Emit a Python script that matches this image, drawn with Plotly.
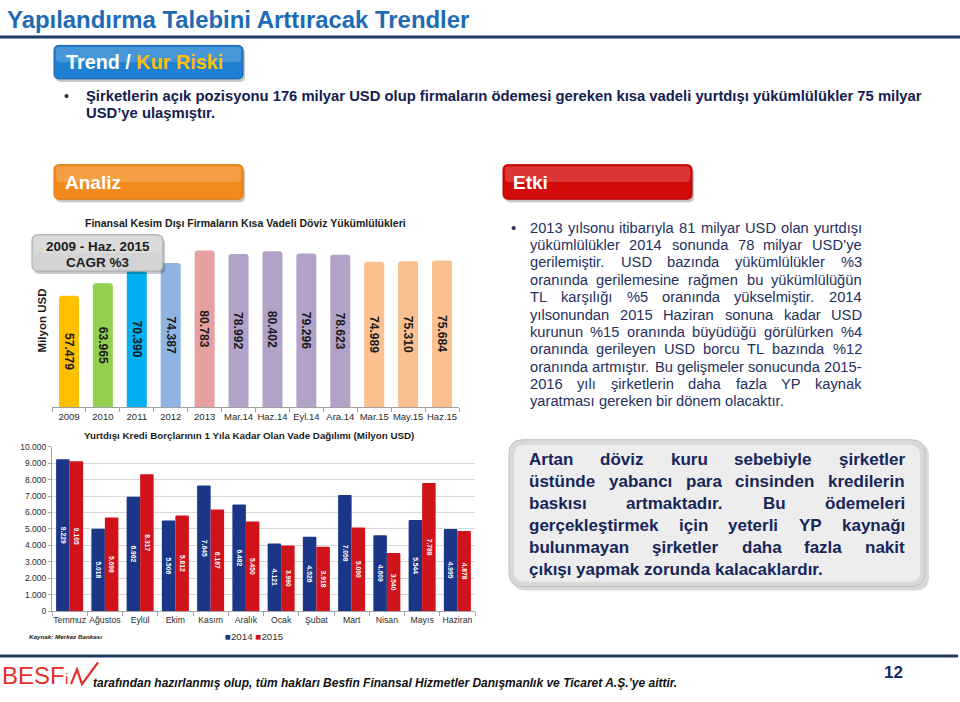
import plotly.graph_objects as go

# ---------------- DATA ----------------
top_categories = ["2009", "2010", "2011", "2012", "2013", "Mar.14", "Haz.14", "Eyl.14",
                  "Ara.14", "Mar.15", "May.15", "Haz.15"]
top_values = [57479, 63965, 70390, 74387, 80783, 78992, 80402, 79296, 78623, 74989, 75310, 75684]
top_colors = ["#FFC000", "#92D050", "#00B0F0", "#8DB4E2", "#E6A0A0", "#B3A2C7", "#B3A2C7",
              "#B3A2C7", "#B3A2C7", "#FAC090", "#FAC090", "#FAC090"]

months = ["Temmuz", "Ağustos", "Eylül", "Ekim", "Kasım", "Aralık", "Ocak", "Şubat",
          "Mart", "Nisan", "Mayıs", "Haziran"]
debt_2014 = [9229, 5018, 6962, 5506, 7645, 6482, 4121, 4526, 7058, 4609, 5544, 4995]
debt_2015 = [9105, 5698, 8317, 5812, 6187, 5450, 3990, 3918, 5090, 3540, 7788, 4878]
series_names = ["2014", "2015"]

title_text = "Yapılandırma Talebini Arttıracak Trendler"
top_chart_title = "Finansal Kesim Dışı Firmaların Kısa Vadeli Döviz Yükümlülükleri"
bottom_chart_title = "Yurtdışı Kredi Borçlarının 1 Yıla Kadar Olan Vade Dağılımı (Milyon USD)"
bullet_top = ["Şirketlerin açık pozisyonu 176 milyar USD olup firmaların ödemesi gereken kısa vadeli yurtdışı yükümlülükler 75 milyar",
              "USD’ye ulaşmıştır."]
etki_lines = ["2013 yılsonu itibarıyla 81 milyar USD olan yurtdışı",
              "yükümlülükler 2014 sonunda 78 milyar USD’ye",
              "gerilemiştir. USD bazında yükümlülükler %3",
              "oranında gerilemesine rağmen bu yükümlülüğün",
              "TL karşılığı %5 oranında yükselmiştir. 2014",
              "yılsonundan 2015 Haziran sonuna kadar USD",
              "kurunun %15 oranında büyüdüğü görülürken %4",
              "oranında gerileyen USD borcu TL bazında %12",
              "oranında artmıştır. Bu gelişmeler sonucunda 2015-",
              "2016 yılı şirketlerin daha fazla YP kaynak",
              "yaratması gereken bir dönem olacaktır."]
box_lines = ["Artan döviz kuru sebebiyle şirketler",
             "üstünde yabancı para cinsinden kredilerin",
             "baskısı artmaktadır. Bu ödemeleri",
             "gerçekleştirmek için yeterli YP kaynağı",
             "bulunmayan şirketler daha fazla nakit",
             "çıkışı yapmak zorunda kalacaklardır."]
footer_text = "tarafından hazırlanmış olup, tüm hakları Besfin Finansal Hizmetler Danışmanlık ve Ticaret A.Ş.’ye aittir."

# ---------------- helpers ----------------
W, H = 960, 702
FONT = "Liberation Sans, Arial, sans-serif"


def X(px):
    return px / W


def Y(py):
    return 1 - py / H


REG = {' ': 278, '.': 278, ',': 278, '-': 333, '%': 889, "'": 191, '’': 222, '(': 333, ')': 333,
       '/': 278, ':': 278}
BOLD = {' ': 278, '.': 278, ',': 278, '-': 333, '%': 889, "'": 238, '’': 278, '(': 333, ')': 333,
        '/': 278, ':': 333}
for d in "0123456789":
    REG[d] = 556
    BOLD[d] = 556
REG.update(dict(zip("ABCDEFGHIJKLMNOPQRSTUVWXYZ",
                    [667, 667, 722, 722, 667, 611, 778, 722, 278, 500, 667, 556, 833, 722, 778, 667, 778,
                     722, 667, 611, 722, 667, 944, 667, 667, 611])))
REG.update(dict(zip("abcdefghijklmnopqrstuvwxyz",
                    [556, 556, 500, 556, 556, 278, 556, 556, 222, 222, 500, 222, 833, 556, 556, 556, 556,
                     333, 500, 278, 556, 500, 722, 500, 500, 500])))
REG.update({'ı': 278, 'ş': 500, 'ç': 500, 'ğ': 556, 'ü': 556, 'ö': 556, 'Ş': 667, 'Ç': 722,
            'Ğ': 778, 'Ü': 722, 'Ö': 778, 'İ': 278})
BOLD.update(dict(zip("ABCDEFGHIJKLMNOPQRSTUVWXYZ",
                     [722, 722, 722, 722, 667, 611, 778, 722, 278, 556, 722, 611, 833, 722, 778, 667, 778,
                      722, 667, 611, 722, 667, 944, 667, 667, 611])))
BOLD.update(dict(zip("abcdefghijklmnopqrstuvwxyz",
                     [556, 611, 556, 611, 556, 333, 611, 611, 278, 278, 556, 278, 889, 611, 611, 611, 611,
                      389, 556, 333, 611, 556, 778, 556, 556, 500])))
BOLD.update({'ı': 278, 'ş': 556, 'ç': 556, 'ğ': 611, 'ü': 611, 'ö': 611, 'Ş': 667, 'Ç': 722,
             'Ğ': 778, 'Ü': 722, 'Ö': 778, 'İ': 278})


def textw(s, bold=False):
    t = BOLD if bold else REG
    return sum(t.get(c, 556) for c in s) / 1000.0


def fit(s, width, bold=False):
    return width / textw(s, bold)


annotations = []
shapes = []


def txt(s, x, y, size, color="#000000", bold=False, italic=False, xanchor="left", angle=0):
    if bold:
        s = "<b>" + s + "</b>"
    if italic:
        s = "<i>" + s + "</i>"
    annotations.append(dict(text=s, x=X(x), y=Y(y), xref="paper", yref="paper", xanchor=xanchor,
                            yanchor="middle", showarrow=False, borderpad=0, borderwidth=0,
                            textangle=angle, font=dict(size=size, color=color, family=FONT)))


def justify(line, x0, x1, y, size, color, bold=False, last=False):
    words = line.split(" ")
    ws = [textw(w, bold) * size for w in words]
    if last or len(words) == 1:
        gap = textw(" ", bold) * size
    else:
        gap = (x1 - x0 - sum(ws)) / (len(words) - 1)
    x = x0
    for w, wd in zip(words, ws):
        txt(w, x, y, size, color, bold)
        x += wd + gap


def rrpath(x0, y0, x1, y1, r):
    rx, ry = r, r
    return (f"M {X(x0 + rx)},{Y(y0)} L {X(x1 - rx)},{Y(y0)} Q {X(x1)},{Y(y0)} {X(x1)},{Y(y0 + ry)} "
            f"L {X(x1)},{Y(y1 - ry)} Q {X(x1)},{Y(y1)} {X(x1 - rx)},{Y(y1)} "
            f"L {X(x0 + rx)},{Y(y1)} Q {X(x0)},{Y(y1)} {X(x0)},{Y(y1 - ry)} "
            f"L {X(x0)},{Y(y0 + ry)} Q {X(x0)},{Y(y0)} {X(x0 + rx)},{Y(y0)} Z")


def rbox(x0, y0, x1, y1, r, fill, line=None, lw=0, shadow=True, gloss=True):
    if shadow:
        shapes.append(dict(type="path", path=rrpath(x0 + 2, y0 + 3, x1 + 2, y1 + 3, r), xref="paper",
                           yref="paper", fillcolor="rgba(0,0,0,0.22)", line=dict(width=0), layer="above"))
    shapes.append(dict(type="path", path=rrpath(x0, y0, x1, y1, r), xref="paper", yref="paper",
                       fillcolor=fill, line=dict(width=lw, color=line or fill), layer="above"))
    if gloss:
        shapes.append(dict(type="path", path=rrpath(x0 + 2, y0 + 1.5, x1 - 2, (y0 + y1) / 2, r * 0.8),
                           xref="paper", yref="paper", fillcolor="rgba(255,255,255,0.18)",
                           line=dict(width=0), layer="above"))


# ---------------- figure ----------------
fig = go.Figure()

fig.add_trace(go.Bar(
    x=top_categories, y=top_values, xaxis="x", yaxis="y",
    marker=dict(color=top_colors, line=dict(width=0), cornerradius=3),
    width=0.59, offset=-0.295,
    texttemplate="%{y:,d}", textposition="inside", insidetextanchor="middle", textangle=90,
    textfont=dict(size=13, color="#1A1A1A", family=FONT, weight="bold"),
    showlegend=False, hoverinfo="skip"))

bar_w = 0.383
for name, vals, col, off in [(series_names[0], debt_2014, "#1B3587", -bar_w),
                             (series_names[1], debt_2015, "#D0121B", 0.0)]:
    fig.add_trace(go.Bar(
        x=months, y=vals, name=name, xaxis="x2", yaxis="y2",
        marker=dict(color=col, line=dict(width=0), cornerradius=1),
        width=bar_w, offset=off,
        texttemplate="%{y:,d}", textposition="inside", insidetextanchor="middle", textangle=90,
        textfont=dict(size=9, color="#FFFFFF", family=FONT, weight="bold"),
        showlegend=False, hoverinfo="skip"))

# header
txt(title_text, 7, 15, fit(title_text, 468, True), "#1E6BB5", bold=True)
shapes.append(dict(type="line", xref="paper", yref="paper", x0=0, x1=1, y0=Y(32.5), y1=Y(32.5),
                   line=dict(color="#1F3864", width=3)))

rbox(54, 41, 243, 75, 5, "#1F7FD0", "#1865B0", 1)
annotations.append(dict(text="<b>Trend / <span style='color:#FFC000'>Kur Riski</span></b>",
                        x=X(66), y=Y(58), xref="paper", yref="paper", xanchor="left", yanchor="middle",
                        showarrow=False, borderpad=0, borderwidth=0,
                        font=dict(size=19.8, color="#FFFFFF", family=FONT)))

txt("•", 64, 92, 14, "#1B2A5E")
txt(bullet_top[0], 86, 92, 14.8, "#14204F", bold=True)
txt(bullet_top[1], 86, 110, 14.8, "#14204F", bold=True)

rbox(54, 162, 243, 197, 5, "#F28A1C", "#D9730E", 1)
txt("Analiz", 65, 180, 19, "#FFFFFF", bold=True)
rbox(503, 162, 692, 197, 5, "#D20A0A", "#B00000", 1)
txt("Etki", 513, 180, 19, "#FFFFFF", bold=True)

# top chart texts
txt(top_chart_title, 246, 221, fit(top_chart_title, 322, True), "#1A1A1A", bold=True, xanchor="center")
txt("Milyon USD", 42, 320, 11.5, "#1A1A1A", bold=True, xanchor="center", angle=-90)
rbox(32, 233, 163, 270, 6, "#D4D4D4", "#A8A8A8", 1, shadow=True, gloss=True)
txt("2009 - Haz. 2015", 97.5, 245, 13.5, "#1E1E1E", bold=True, xanchor="center")
txt("CAGR %3", 97.5, 261, 13.5, "#1E1E1E", bold=True, xanchor="center")

# bottom chart texts
txt(bottom_chart_title, 249, 437, fit(bottom_chart_title, 332, True), "#1A1A1A", bold=True, xanchor="center")
txt("Kaynak: Merkez Bankası", 29, 641, fit("Kaynak: Merkez Bankası", 73, True), "#1A1A1A", bold=True, italic=True)
annotations.append(dict(text=f"<span style='color:#1B3587'>■</span>{series_names[0]} "
                             f"<span style='color:#D0121B'>■</span>{series_names[1]}",
                        x=X(225), y=Y(641), xref="paper", yref="paper", xanchor="left", yanchor="middle",
                        showarrow=False, borderpad=0, borderwidth=0,
                        font=dict(size=9.8, color="#333333", family=FONT)))

# right bullet text (justified)
txt("•", 511, 226, 14.7, "#24305E")
for i, line in enumerate(etki_lines):
    justify(line, 530, 862, 226 + 17.6 * i, 14.7, "#24305E", bold=False, last=(i == len(etki_lines) - 1))

# conclusion box
shapes.append(dict(type="path", path=rrpath(512, 444, 929, 594, 14), xref="paper", yref="paper",
                   fillcolor="rgba(0,0,0,0.15)", line=dict(width=0), layer="above"))
shapes.append(dict(type="path", path=rrpath(509, 441, 925, 590, 14), xref="paper", yref="paper",
                   fillcolor="#D9D9D9", line=dict(width=1, color="#BFBFBF"), layer="above"))
shapes.append(dict(type="path", path=rrpath(514, 446, 920, 585, 11), xref="paper", yref="paper",
                   fillcolor="#EDEDED", line=dict(width=0), layer="above"))
for i, line in enumerate(box_lines):
    justify(line, 529, 905, 461 + 22.4 * i, 17, "#17265A", bold=True, last=(i == len(box_lines) - 1))

# footer
shapes.append(dict(type="line", xref="paper", yref="paper", x0=0, x1=X(958), y0=Y(660.5), y1=Y(660.5),
                   line=dict(color="#1F3864", width=3)))
txt("BESF", 2, 680, 24, "#E0302A")
txt("i", 65, 683, 15, "#E0302A")
shapes.append(dict(type="path", xref="paper", yref="paper",
                   path=f"M {X(71)},{Y(689)} L {X(77)},{Y(674)} L {X(82)},{Y(689)} L {X(98)},{Y(667)}",
                   line=dict(color="#E0302A", width=2.2), layer="above"))
txt(footer_text, 93, 688, fit(footer_text, 586, True), "#111111", bold=True, italic=True)
txt("12", 893, 677, 17, "#1B2A5E", bold=True, xanchor="center")

fig.update_layout(
    width=W, height=H, margin=dict(l=0, r=0, t=0, b=0),
    paper_bgcolor="#FFFFFF", plot_bgcolor="rgba(0,0,0,0)",
    font=dict(family=FONT, color="#222222"),
    separators=",.", hovermode=False, showlegend=False,
    xaxis=dict(domain=[X(52), X(459)], anchor="y", type="category", showgrid=False,
               showline=True, linecolor="#A0A0A0", linewidth=1, ticks="outside", tickson="boundaries",
               ticklen=4, tickcolor="#A0A0A0", tickangle=0,
               tickfont=dict(size=9.5, color="#2A2A2A"), fixedrange=True),
    yaxis=dict(domain=[Y(408), Y(240)], anchor="x", range=[0, 85450], visible=False, fixedrange=True),
    xaxis2=dict(domain=[X(52), X(475)], anchor="y2", type="category", showgrid=False,
                showline=True, linecolor="#A6A6A6", linewidth=1, ticks="outside", tickson="boundaries",
                ticklen=4, tickcolor="#A6A6A6", tickangle=0,
                tickfont=dict(size=8.7, color="#2A2A2A"), fixedrange=True),
    yaxis2=dict(domain=[Y(615), Y(448)], anchor="x2", range=[0, 10000], dtick=1000, tickformat=",d",
                showgrid=True, gridcolor="#D9D9D9", gridwidth=1, showline=True, linecolor="#A6A6A6",
                ticks="outside", ticklen=3, tickcolor="#A6A6A6", zeroline=False,
                tickfont=dict(size=8.5, color="#2A2A2A"), fixedrange=True),
    annotations=annotations, shapes=shapes,
)

fig.write_html("out.html", config={"displayModeBar": False},
               post_script="document.body.style.margin='0';document.body.style.padding='0';"
                           "document.body.style.overflow='hidden';"
                           "document.documentElement.style.overflow='hidden';")
